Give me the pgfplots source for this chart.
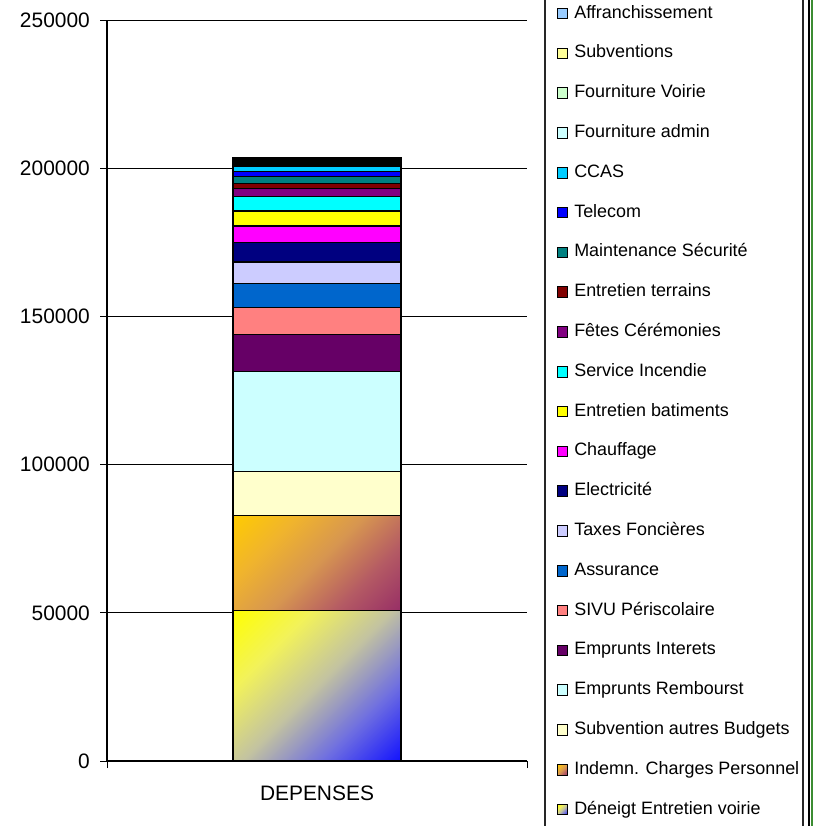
\documentclass[border=0pt]{standalone}
\usepackage{pgfplots}
\pgfplotsset{compat=1.18}
\usepackage{fontspec}
\setmainfont{Liberation Sans}
\definecolor{cSubAut}{RGB}{255,255,204}
\definecolor{cEmpR}{RGB}{204,255,255}
\definecolor{cEmpI}{RGB}{102,0,102}
\definecolor{cSivu}{RGB}{255,128,128}
\definecolor{cAss}{RGB}{0,102,204}
\definecolor{cTax}{RGB}{204,204,255}
\definecolor{cElec}{RGB}{0,0,128}
\definecolor{cChauf}{RGB}{255,0,255}
\definecolor{cEntB}{RGB}{255,255,0}
\definecolor{cInc}{RGB}{0,255,255}
\definecolor{cFete}{RGB}{128,0,128}
\definecolor{cEntT}{RGB}{128,0,0}
\definecolor{cMaint}{RGB}{0,128,128}
\definecolor{cTel}{RGB}{0,0,255}
\definecolor{cCcas}{RGB}{0,204,255}
\definecolor{cFAdm}{RGB}{204,255,255}
\definecolor{cFVoi}{RGB}{204,255,204}
\definecolor{cSubv}{RGB}{255,255,153}
\definecolor{cAffr}{RGB}{153,204,255}
\definecolor{cGold}{RGB}{255,204,0}
\definecolor{cGM1}{RGB}{240,180,45}
\definecolor{cMidGM}{RGB}{215,150,80}
\definecolor{cGM3}{RGB}{180,90,100}
\definecolor{cMaroon}{RGB}{150,45,102}
\definecolor{cYel}{RGB}{255,255,0}
\definecolor{cYB1}{RGB}{242,242,90}
\definecolor{cMidYB}{RGB}{195,195,160}
\definecolor{cYB3}{RGB}{110,110,225}
\definecolor{cBlu}{RGB}{15,15,255}
\definecolor{cFrame}{RGB}{60,140,50}
\pgfdeclareverticalshading{ybshade}{100bp}{color(0bp)=(cBlu); color(14bp)=(cBlu); color(32bp)=(cYB3); color(50bp)=(cMidYB); color(68bp)=(cYB1); color(86bp)=(cYel); color(100bp)=(cYel)}
\pgfdeclareverticalshading{gmshade}{100bp}{color(0bp)=(cMaroon); color(14bp)=(cMaroon); color(32bp)=(cGM3); color(50bp)=(cMidGM); color(68bp)=(cGM1); color(86bp)=(cGold); color(100bp)=(cGold)}
\begin{document}
\begin{tikzpicture}
\useasboundingbox (0,0) rectangle (813bp,-826bp);
\clip (0,0) rectangle (813bp,-826bp);
\fill[white] (0,0) rectangle (813bp,-826bp);
\begin{axis}[
 at={(107bp,-761bp)}, anchor=south west,
 scale only axis, width=420bp, height=741bp,
 ybar stacked, bar width=168bp,
 xmin=-0.5, xmax=0.5, ymin=0, ymax=250000,
 scaled y ticks=false,
 axis lines=left, axis line style={-, line width=1.2bp},
 tick align=outside, major tick length=7bp,
 xtick={-0.5,0.5}, xticklabels={,},
 extra x ticks={0}, extra x tick labels={DEPENSES},
 extra x tick style={major tick length=0pt, grid=none},
 ytick={0,50000,100000,150000,200000,250000},
 yticklabels={0,50000,100000,150000,200000,250000},
 ymajorgrids, grid style={black, line width=1bp},
 tick style={black, line width=1bp},
 ticklabel style={font=\fontsize{21}{25}\selectfont},
 yticklabel style={inner xsep=0pt, xshift=-10bp},
 xticklabel style={yshift=-21bp},
 clip=false,
 reverse legend, legend cell align=left,
 legend style={draw=none, fill=none, inner sep=0pt,
   at={(axis description cs:1.0707,1.0204)}, anchor=north west,
   row sep=22.8bp, column sep=6bp,
   font=\fontsize{18}{21}\selectfont,
   nodes={inner sep=0pt, text height=13bp, text depth=4bp}},
 every axis plot post/.append style={
   legend image code/.code={\draw[##1, line width=0.8bp] (0bp,-5.3bp) rectangle (10.6bp,5.3bp);}},
]
\addplot[draw=black, line width=1.5bp, shade, shading=ybshade, shading angle=45] coordinates {(0,50700)};
\addlegendentry{Déneigt Entretien voirie}
\addplot[draw=black, line width=1.5bp, shade, shading=gmshade, shading angle=45] coordinates {(0,32050)};
\addlegendentry{Indemn. Charges Personnel}
\addplot[draw=black, line width=1.5bp, fill=cSubAut] coordinates {(0,14980)};
\addlegendentry{Subvention autres Budgets}
\addplot[draw=black, line width=1.5bp, fill=cEmpR] coordinates {(0,33600)};
\addlegendentry{Emprunts Rembourst}
\addplot[draw=black, line width=1.5bp, fill=cEmpI] coordinates {(0,12620)};
\addlegendentry{Emprunts Interets}
\addplot[draw=black, line width=1.5bp, fill=cSivu] coordinates {(0,8980)};
\addlegendentry{SIVU Périscolaire}
\addplot[draw=black, line width=1.5bp, fill=cAss] coordinates {(0,8090)};
\addlegendentry{Assurance}
\addplot[draw=black, line width=1.5bp, fill=cTax] coordinates {(0,7320)};
\addlegendentry{Taxes Foncières}
\addplot[draw=black, line width=1.5bp, fill=cElec] coordinates {(0,6520)};
\addlegendentry{Electricité}
\addplot[draw=black, line width=1.5bp, fill=cChauf] coordinates {(0,5630)};
\addlegendentry{Chauffage}
\addplot[draw=black, line width=1.5bp, fill=cEntB] coordinates {(0,5060)};
\addlegendentry{Entretien batiments}
\addplot[draw=black, line width=1.5bp, fill=cInc] coordinates {(0,4960)};
\addlegendentry{Service Incendie}
\addplot[draw=black, line width=1.5bp, fill=cFete] coordinates {(0,2700)};
\addlegendentry{Fêtes Cérémonies}
\addplot[draw=black, line width=1.5bp, fill=cEntT] coordinates {(0,1680)};
\addlegendentry{Entretien terrains}
\addplot[draw=black, line width=1.5bp, fill=cMaint] coordinates {(0,2230)};
\addlegendentry{Maintenance Sécurité}
\addplot[draw=black, line width=1.5bp, fill=cTel] coordinates {(0,1810)};
\addlegendentry{Telecom}
\addplot[draw=black, line width=1.2bp, fill=cCcas] coordinates {(0,1560)};
\addlegendentry{CCAS}
\addplot[draw=black, line width=0.4bp, fill=cFAdm] coordinates {(0,300)};
\addlegendentry{Fourniture admin}
\addplot[draw=black, line width=0.2bp, fill=cFVoi] coordinates {(0,100)};
\addlegendentry{Fourniture Voirie}
\addplot[draw=black, line width=0.2bp, fill=cSubv] coordinates {(0,80)};
\addlegendentry{Subventions}
\addplot[draw=black, line width=0.2bp, fill=cAffr] coordinates {(0,100)};
\addlegendentry{Affranchissement}
\addplot[draw=black, line width=1.5bp, fill=black, forget plot] coordinates {(0,2600)};
\end{axis}
\draw[line width=1.5bp, black!85] (545bp,10bp) rectangle (803bp,-840bp);
\draw[line width=2bp, black] (809bp,10bp) -- (809bp,-840bp);
\draw[line width=2.6bp, cFrame] (811.8bp,10bp) -- (811.8bp,-840bp);
\end{tikzpicture}
\end{document}
